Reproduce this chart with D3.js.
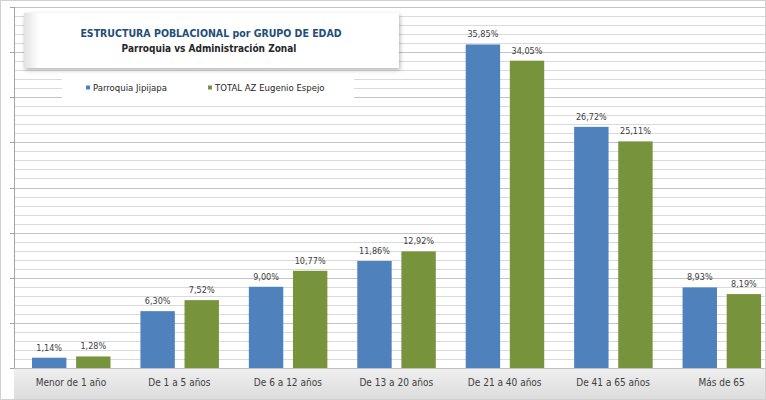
<!DOCTYPE html>
<html><head><meta charset="utf-8">
<script src="https://cdn.jsdelivr.net/npm/d3@7"></script>
<style>
body{margin:0;background:#fff;}
svg{display:block;font-family:"Liberation Sans Narrow","DejaVu Sans Condensed","Liberation Sans",sans-serif;}
</style></head>
<body><svg id="c" width="766" height="400"></svg>
<script>
const categories = ["Menor de 1 año","De 1 a 5 años","De 6 a 12 años","De 13 a 20 años","De 21 a 40 años","De 41 a 65 años","Más de 65"];
const parroquia = [1.14, 6.30, 9.00, 11.86, 35.85, 26.72, 8.93];
const totalAZ = [1.28, 7.52, 10.77, 12.92, 34.05, 25.11, 8.19];
const seriesNames = ["Parroquia Jipijapa","TOTAL AZ Eugenio Espejo"];
const colors = ["#4F81BD","#77933C"];
const titleLines = ["ESTRUCTURA POBLACIONAL por GRUPO DE EDAD","Parroquia vs Administración Zonal"];

(function(){
const svg = d3.select("#c");
const W = 766, H = 400;
const base = 368, plotTop = 7;
const y = d3.scaleLinear().domain([0,40]).range([base, plotTop]);
const x0 = d3.scaleBand().domain(categories).range([17, 776]).padding(0);
const x1 = d3.scaleBand().domain([0,1]).range([15, 93.5]).paddingInner(0.22);

const defs = svg.append("defs");
const g1 = defs.append("linearGradient").attr("id","bot").attr("x1",0).attr("x2",0).attr("y1",0).attr("y2",1);
g1.append("stop").attr("offset","0%").attr("stop-color","#efefef");
g1.append("stop").attr("offset","100%").attr("stop-color","#dcdcdc");
const g2 = defs.append("linearGradient").attr("id","tbox").attr("x1",0).attr("x2",1);
g2.append("stop").attr("offset","0%").attr("stop-color","#e2e2e2");
g2.append("stop").attr("offset","4%").attr("stop-color","#ffffff");
g2.append("stop").attr("offset","100%").attr("stop-color","#ffffff");
const f = defs.append("filter").attr("id","sh").attr("x","-5%").attr("y","-20%").attr("width","115%").attr("height","160%");
f.append("feDropShadow").attr("dx",1).attr("dy",2).attr("stdDeviation",2).attr("flood-color","#000").attr("flood-opacity",0.3);

svg.append("rect").attr("width",W).attr("height",H).attr("fill","#fff");

const minor = d3.range(1,41);
svg.append("g").selectAll("line").data(minor).join("line")
  .attr("x1",15).attr("x2",W).attr("y1",d=>Math.round(y(d))+0.5).attr("y2",d=>Math.round(y(d))+0.5)
  .attr("stroke",d=>d%5===0?"#c4c4c4":"#dadada").attr("stroke-width",1);

svg.append("line").attr("x1",14.5).attr("x2",14.5).attr("y1",plotTop).attr("y2",base).attr("stroke","#a6a6a6");
svg.append("g").selectAll("line").data(d3.range(0,41,5)).join("line")
  .attr("x1",10).attr("x2",15).attr("y1",d=>Math.round(y(d))+0.5).attr("y2",d=>Math.round(y(d))+0.5).attr("stroke","#a6a6a6");

svg.append("rect").attr("x",14).attr("y",base).attr("width",W-14).attr("height",H-base).attr("fill","url(#bot)");
svg.append("line").attr("x1",14).attr("x2",W).attr("y1",base+0.5).attr("y2",base+0.5).attr("stroke","#bfbfbf");

const data = categories.map((c,i)=>({c, v:[parroquia[i], totalAZ[i]]}));
const grp = svg.append("g").selectAll("g").data(data).join("g").attr("transform",d=>`translate(${x0(d.c)},0)`);
grp.selectAll("rect").data(d=>d.v.map((v,k)=>({v,k}))).join("rect")
  .attr("x",d=>x1(d.k)).attr("width",x1.bandwidth())
  .attr("y",d=>y(d.v)).attr("height",d=>base-y(d.v))
  .attr("fill",d=>colors[d.k]);
grp.selectAll("text").data(d=>d.v.map((v,k)=>({v,k}))).join("text")
  .attr("x",d=>x1(d.k)+x1.bandwidth()/2).attr("y",d=>y(d.v)-7)
  .attr("text-anchor","middle").attr("font-size",9).attr("fill","#404040")
  .text(d=>d.v.toFixed(2).replace(".",",")+"%");

svg.append("g").selectAll("text").data(categories).join("text")
  .attr("x",d=>x0(d)+54).attr("y",386).attr("text-anchor","middle")
  .attr("font-size",10).attr("fill","#404040").text(d=>d);

svg.append("rect").attr("x",24).attr("y",13).attr("width",375).attr("height",55)
  .attr("fill","url(#tbox)").attr("filter","url(#sh)");
svg.append("text").attr("x",211).attr("y",37).attr("text-anchor","middle")
  .attr("font-size",10.5).attr("fill","#1F4E79").attr("font-weight","bold").text(titleLines[0]);
svg.append("text").attr("x",209).attr("y",52).attr("text-anchor","middle")
  .attr("font-size",10).attr("fill","#262626").attr("font-weight","bold").text(titleLines[1]);

svg.append("rect").attr("x",62).attr("y",77).attr("width",292).attr("height",22).attr("fill","#fff");
const lx = [86, 208];
const lg = svg.append("g").selectAll("g").data(seriesNames).join("g").attr("transform",(d,i)=>`translate(${lx[i]},88)`);
lg.append("rect").attr("x",0).attr("y",-2.5).attr("width",4).attr("height",4).attr("fill",(d,i)=>colors[i]);
lg.append("text").attr("x",7).attr("y",3).attr("font-size",9.5).attr("fill","#262626").text(d=>d);

svg.append("rect").attr("x",0.5).attr("y",0.5).attr("width",W-1).attr("height",H-1).attr("fill","none").attr("stroke","#d0d0d0");
})();
</script></body></html>
